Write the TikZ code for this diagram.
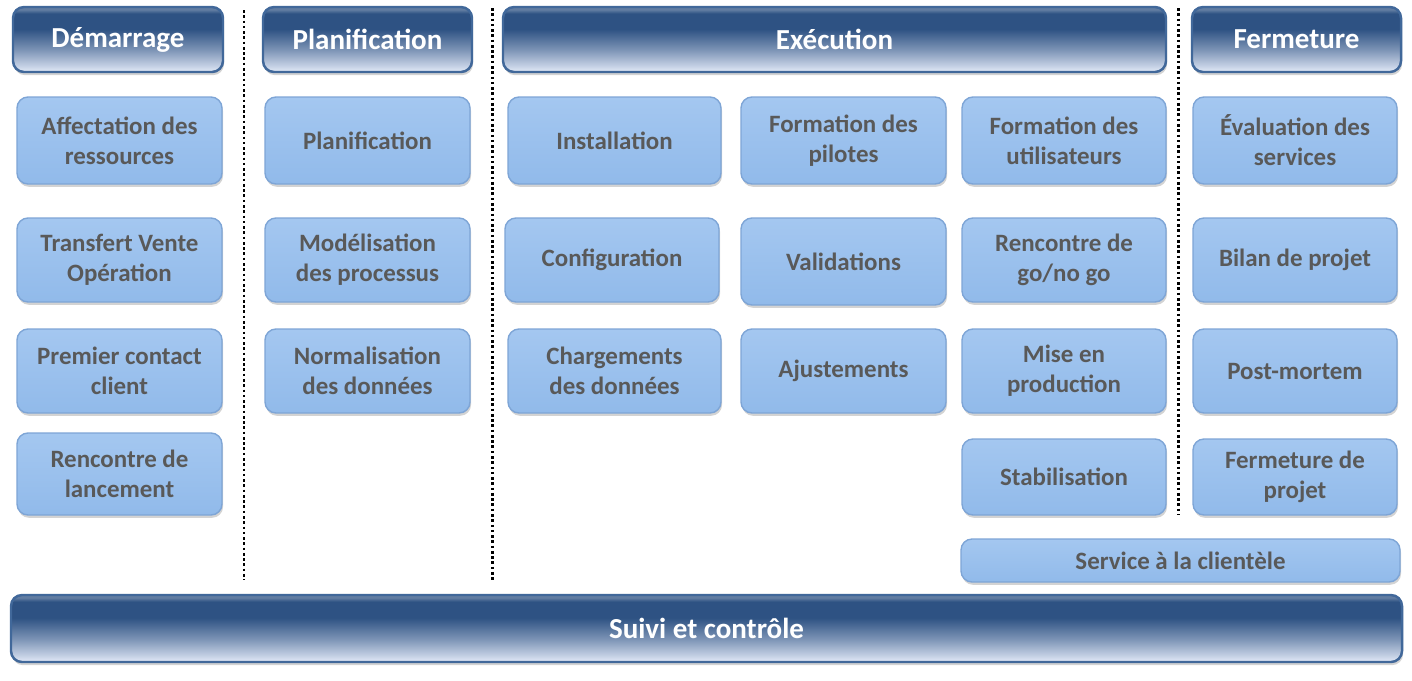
\documentclass[tikz,border=0pt]{standalone}
\usepackage{fontspec}
\setmainfont{Carlito}
\usetikzlibrary{shadows}
\definecolor{hdrdark}{HTML}{2E5283}
\definecolor{hdrlight}{HTML}{DDE5F4}
\definecolor{hdrborder}{HTML}{41689A}
\definecolor{boxtop}{HTML}{A4C7F0}
\definecolor{boxbot}{HTML}{91BAEA}
\definecolor{boxborder}{HTML}{7EA5D6}
\definecolor{txtgray}{HTML}{595959}
\pgfdeclareverticalshading{hdrshade}{100bp}{color(0bp)=(hdrlight); color(26bp)=(hdrlight); color(30bp)=(hdrlight!85!hdrdark); color(42bp)=(hdrlight!45!hdrdark); color(58bp)=(hdrdark); color(70bp)=(hdrdark); color(73bp)=(hdrdark!75!white); color(100bp)=(hdrdark!75!white)}
\tikzset{
  stepbox/.style={draw=boxborder, line width=0.8pt, rounded corners=0.22cm, top color=boxtop, bottom color=boxbot, text=txtgray, align=center, inner sep=0pt, font=\fontsize{14.2}{17}\selectfont\bfseries, drop shadow={shadow xshift=0.6pt, shadow yshift=-1.6pt, opacity=0.35}},
  phase/.style={draw=hdrborder, line width=1.4pt, rounded corners=0.22cm, shading=hdrshade, text=white, align=center, inner sep=0pt, font=\fontsize{16.5}{19}\selectfont\bfseries, drop shadow={shadow xshift=0.6pt, shadow yshift=-1.8pt, opacity=0.35}},
  sep/.style={line width=1.7pt, dash pattern=on 1.5pt off 1.5pt, black}
}
\newcommand\bx[7]{\node[#1, minimum width={(#5-#3)*0.02cm}, minimum height={(#6-#4)*0.02cm}] (#2) at ({(#3+#5)/2},{(#4+#6)/2}) {#7};}
\begin{document}
\begin{tikzpicture}[x=0.02cm,y=-0.02cm]
\useasboundingbox (0,0) rectangle (1412,680);
% separators
\coordinate (s1a) at (244,10); \coordinate (s1b) at (244,580);
\coordinate (s2a) at (492,8); \coordinate (s2b) at (492,580);
\coordinate (s3a) at (1178,8); \coordinate (s3b) at (1178,515);
\draw[sep] (s1a) -- (s1b);
\draw[sep] (s2a) -- (s2b);
\draw[sep] (s3a) -- (s3b);
% headers
\bx{phase}{h1}{13}{7}{223}{72}{Démarrage}
\bx{phase}{h2}{263}{7}{472}{72}{Planification}
\bx{phase}{h3}{503}{7}{1166}{72}{Exécution}
\bx{phase}{h4}{1192}{7}{1401}{72}{Fermeture}
% column 1
\bx{stepbox}{a1}{17}{97}{222}{184}{Affectation des\\ressources}
\bx{stepbox}{a2}{17}{218}{222}{302}{Transfert Vente\\Opération}
\bx{stepbox}{a3}{17}{329}{222}{413}{Premier contact\\client}
\bx{stepbox}{a4}{17}{433}{222}{515}{Rencontre de\\lancement}
% column 2
\bx{stepbox}{b1}{265}{97}{470}{184}{Planification}
\bx{stepbox}{b2}{265}{218}{470}{302}{Modélisation\\des processus}
\bx{stepbox}{b3}{265}{329}{470}{413}{Normalisation\\des données}
% column 3
\bx{stepbox}{c1}{508}{97}{721}{184}{Installation}
\bx{stepbox}{c2}{505}{218}{719}{302}{Configuration}
\bx{stepbox}{c3}{508}{329}{721}{413}{Chargements\\des données}
% column 4
\bx{stepbox}{d1}{741}{97}{946}{184}{Formation des\\pilotes}
\bx{stepbox}{d2}{741}{218}{946}{305}{Validations}
\bx{stepbox}{d3}{741}{329}{946}{413}{Ajustements}
% column 5
\bx{stepbox}{e1}{962}{97}{1166}{184}{Formation des\\utilisateurs}
\bx{stepbox}{e2}{962}{218}{1166}{302}{Rencontre de\\go/no go}
\bx{stepbox}{e3}{962}{329}{1166}{413}{Mise en\\production}
\bx{stepbox}{e4}{962}{439}{1166}{515}{Stabilisation}
% column 6
\bx{stepbox}{f1}{1193}{97}{1397}{184}{Évaluation des\\services}
\bx{stepbox}{f2}{1193}{218}{1397}{302}{Bilan de projet}
\bx{stepbox}{f3}{1193}{329}{1397}{413}{Post-mortem}
\bx{stepbox}{f4}{1193}{439}{1397}{515}{Fermeture de\\projet}
% bottom
\bx{stepbox}{svc}{961}{539}{1400}{582}{Service à la clientèle}
\bx{phase}{suivi}{11}{595}{1402}{662}{Suivi et contrôle}
\end{tikzpicture}
\end{document}
